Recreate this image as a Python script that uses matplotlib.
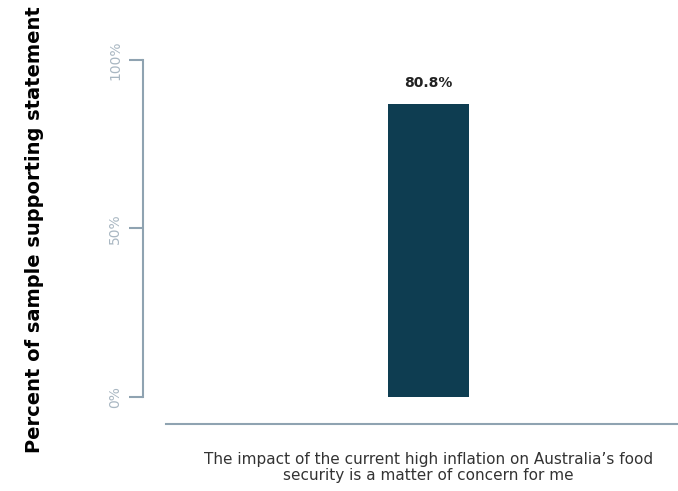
import matplotlib
matplotlib.use("Agg")
import matplotlib.pyplot as plt

# data
categories = ["The impact of the current high inflation on Australia\u2019s food\nsecurity is a matter of concern for me"]
values = [80.8]
scale_ticks = [0, 50, 100]
scale_labels = ["0%", "50%", "100%"]

bar_color = "#0e3d51"
axis_color = "#8fa3b1"
tick_text = "#a9b7c2"

fig = plt.figure(figsize=(6.78, 4.91), dpi=100)

# left scale axis (only the spine and ticks)
ax_scale = fig.add_axes([143 / 678, 94 / 491, 0.02, 337 / 491])
ax_scale.set_ylim(0, 100)
ax_scale.tick_params(axis="y", length=10, width=1.5, color=axis_color, pad=5)
ax_scale.set_yticks(scale_ticks)
ax_scale.set_yticklabels(scale_labels, rotation=90, va="center", color=tick_text, fontsize=10)
ax_scale.set_xticks([])
for s in ["top", "right", "bottom"]:
    ax_scale.spines[s].set_visible(False)
ax_scale.spines["left"].set_color(axis_color)
ax_scale.spines["left"].set_linewidth(1.5)
ax_scale.patch.set_alpha(0)

# bar axis
ax = fig.add_axes([166 / 678, 94 / 491, 512 / 678, 337 / 491])
for s in ["top", "right", "left"]:
    ax.spines[s].set_visible(False)
ax.spines["bottom"].set_position(("outward", 19.5))
ax.spines["bottom"].set_color(axis_color)
ax.spines["bottom"].set_linewidth(1.5)
ax.patch.set_alpha(0)

x = list(range(len(categories)))
bars = ax.bar(x, values, width=0.158, color=bar_color)
ax.set_ylim(0, 92.9)
ax.set_xlim(-0.5127, 0.4873)
ax.set_yticks([])
ax.tick_params(axis="x", length=0, pad=20)
ax.set_xticks(x)
ax.set_xticklabels(categories, fontsize=11, color="#333333", linespacing=1.12)

for b, v in zip(bars, values):
    ax.annotate(f"{v}%", (b.get_x() + b.get_width() / 2, b.get_height()),
                xytext=(0, 10), textcoords="offset points",
                ha="center", va="bottom", fontsize=10, fontweight="bold", color="#222222")

fig.text(35 / 678, 1 - 230 / 491, "Percent of sample supporting statement",
         rotation=90, ha="center", va="center", fontsize=14, fontweight="bold", color="black")

fig.savefig("out.png", dpi=100)
